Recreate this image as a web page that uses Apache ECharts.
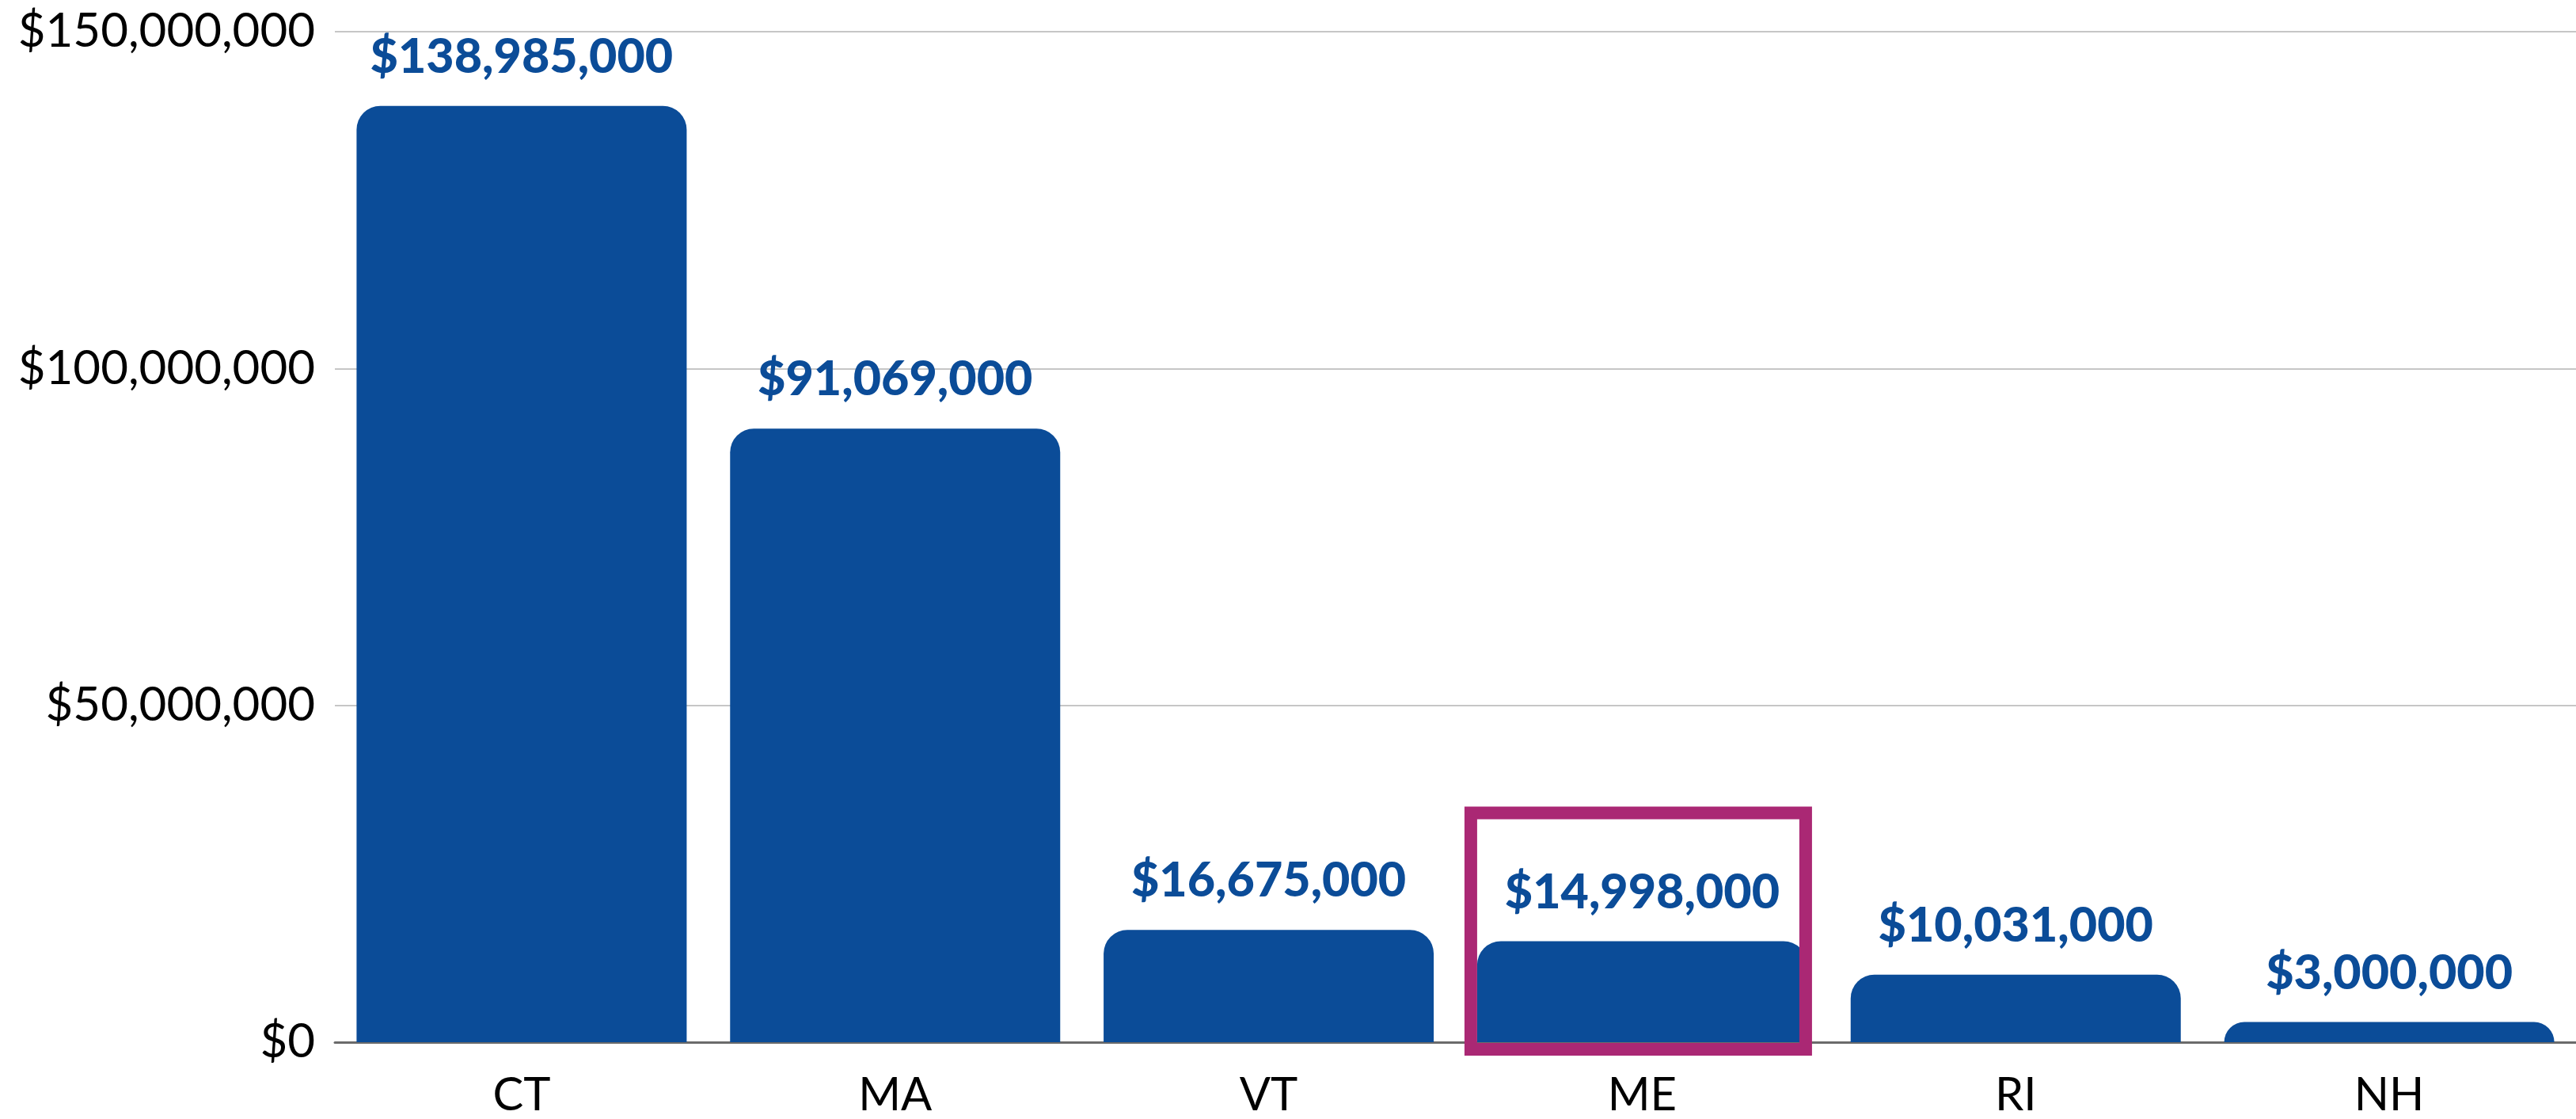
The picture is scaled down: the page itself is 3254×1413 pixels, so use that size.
<!DOCTYPE html>
<html>
<head>
<meta charset="utf-8">
<script src="https://cdn.jsdelivr.net/npm/echarts@6/dist/echarts.min.js"></script>
<style>
  html, body { margin: 0; padding: 0; background: #fff; }
  #chart { width: 3254px; height: 1413px; }
</style>
</head>
<body>
<div id="chart"></div>
<script>
// data
const states = ['CT', 'MA', 'VT', 'ME', 'RI', 'NH'];
const amounts = [138985000, 91069000, 16675000, 14998000, 10031000, 3000000];
const yTicks = [0, 50000000, 100000000, 150000000];
const highlighted = 'ME';

const barColor = '#0b4c98';
const boxColor = '#aa2874';
const barWidth = 417;

function money(v) {
    return '$' + Math.round(v).toLocaleString('en-US');
}

const chart = echarts.init(document.getElementById('chart'), null, { renderer: 'canvas' });

let option = {
    animation: false,
    grid: {
        left: 423,
        width: 2838,
        top: 40,
        bottom: 97,
        containLabel: false
    },
    xAxis: {
        type: 'category',
        data: states,
        axisTick: { show: false },
        axisLine: { lineStyle: { color: '#6b6b6b', width: 3 } },
        axisLabel: {
            color: '#000',
            fontFamily: 'Lato',
            fontSize: 58,
            margin: 38
        }
    },
    yAxis: {
        type: 'value',
        min: yTicks[0],
        max: yTicks[yTicks.length - 1],
        interval: yTicks[1] - yTicks[0],
        axisLine: { show: false },
        axisTick: { show: false },
        splitLine: { lineStyle: { color: '#c6c6c6', width: 2 } },
        axisLabel: {
            color: '#000',
            fontFamily: 'Lato',
            fontSize: 60,
            margin: 25,
            formatter: v => money(v)
        }
    },
    series: [{
        type: 'bar',
        data: amounts,
        barWidth: barWidth,
        itemStyle: {
            color: barColor,
            borderRadius: [30, 30, 0, 0]
        },
        label: {
            show: true,
            position: 'top',
            distance: 31,
            color: barColor,
            fontFamily: 'Lato',
            fontWeight: 900,
            fontSize: 61,
            formatter: p => money(p.value)
        }
    }]
};
chart.setOption(option);

// highlight box around the chosen state, placed from the bar's own position
const hlIdx = states.indexOf(highlighted);
const hlBase = chart.convertToPixel({ seriesIndex: 0 }, [highlighted, 0]);
const hlTop = chart.convertToPixel({ seriesIndex: 0 }, [highlighted, amounts[hlIdx]]);
const boxLeft = hlBase[0] - barWidth / 2 - 8;
const boxRight = hlBase[0] + barWidth / 2 - 2;
const boxTop = hlTop[1] - 162;
const boxBottom = hlBase[1] + 9;
chart.setOption({
    graphic: [{
        type: 'rect',
        shape: { x: boxLeft, y: boxTop, width: boxRight - boxLeft, height: boxBottom - boxTop },
        style: { fill: 'none', stroke: boxColor, lineWidth: 16 },
        z: 100
    }]
});
</script>
</body>
</html>
